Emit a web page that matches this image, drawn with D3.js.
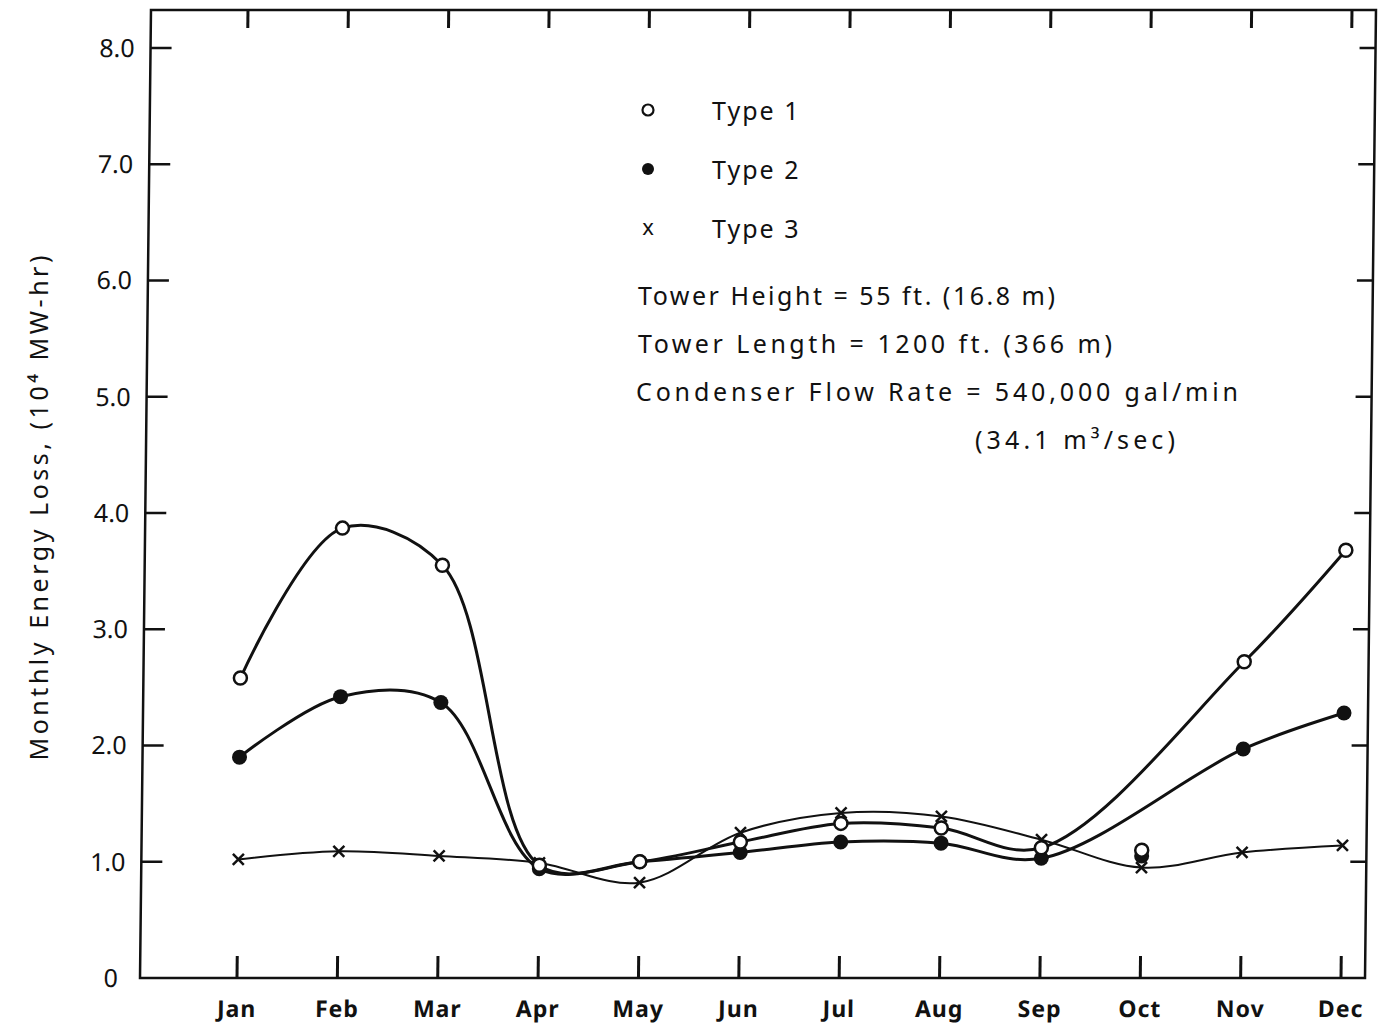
<!DOCTYPE html>
<html lang="en">
<head>
<meta charset="UTF-8">
<title>monthly energy loss</title>
<script src="https://cdn.jsdelivr.net/npm/d3@7/dist/d3.min.js"></script>
<style>
    body { margin: 0; background: #fff; }
    text { font-family: "Noto Sans", "DejaVu Sans", sans-serif; fill: #111; }
</style>
</head>
<body>

<svg width="1380" height="1024"></svg>

<script>

    // data
    var months = ["Jan", "Feb", "Mar", "Apr", "May", "Jun", "Jul", "Aug", "Sep", "Oct", "Nov", "Dec"];
    var type1 = [2.58, 3.87, 3.55, 0.97, 1.00, 1.17, 1.33, 1.29, 1.12, 1.10, 2.72, 3.68];
    var type2 = [1.90, 2.42, 2.37, 0.94, 1.00, 1.08, 1.17, 1.16, 1.03, 1.05, 1.97, 2.28];
    var type3 = [1.02, 1.09, 1.05, 0.99, 0.82, 1.25, 1.42, 1.39, 1.19, 0.95, 1.08, 1.14];
    // the drawn curves of types 1 and 2 skip the Oct point
    var skip12 = ["Oct"];
    var yTicks = [0, 1, 2, 3, 4, 5, 6, 7, 8];
    var yTickLabels = ["0", "1.0", "2.0", "3.0", "4.0", "5.0", "6.0", "7.0", "8.0"];

    var legendNames = ["Type 1", "Type 2", "Type 3"];
    var notes = [
        "Tower Height = 55 ft. (16.8 m)",
        "Tower Length = 1200 ft. (366 m)",
        "Condenser Flow Rate = 540,000 gal/min",
        "(34.1 m\u00b3/sec)"
    ];

    var svg = d3.select("svg");

    var fLeft = 140, fRight = 1365, fTop = 10, fBottom = 978;

    var x = d3.scalePoint().domain(months).range([237, 1341]);
    var y = d3.scaleLinear().domain([0, 8]).range([fBottom, 48]);

    // the scanned sheet leans a little: top edge sits ~11px right of the bottom
    var g = svg.append("g")
        .attr("transform", "translate(0," + fBottom + ") skewX(-0.65) translate(0," + (-fBottom) + ")");

    // frame
    g.append("rect")
        .attr("x", fLeft).attr("y", fTop)
        .attr("width", fRight - fLeft).attr("height", fBottom - fTop)
        .attr("fill", "none").attr("stroke", "#111").attr("stroke-width", 2.5);

    // month ticks, bottom (up) and top (down)
    g.append("g").selectAll("line")
        .data(months).enter().append("line")
        .attr("x1", function (d) { return x(d); }).attr("x2", function (d) { return x(d); })
        .attr("y1", fBottom).attr("y2", fBottom - 22)
        .attr("stroke", "#111").attr("stroke-width", 3);
    g.append("g").selectAll("line")
        .data(months).enter().append("line")
        .attr("x1", function (d) { return x(d); }).attr("x2", function (d) { return x(d); })
        .attr("y1", fTop).attr("y2", fTop + 18)
        .attr("stroke", "#111").attr("stroke-width", 3);

    // value ticks, left and right
    var inner = yTicks.filter(function (d) { return d > 0; });
    g.append("g").selectAll("line")
        .data(inner).enter().append("line")
        .attr("x1", fLeft).attr("x2", fLeft + 21)
        .attr("y1", function (d) { return y(d); }).attr("y2", function (d) { return y(d); })
        .attr("stroke", "#111").attr("stroke-width", 2.5);
    g.append("g").selectAll("line")
        .data(inner).enter().append("line")
        .attr("x1", fRight).attr("x2", fRight - 16)
        .attr("y1", function (d) { return y(d); }).attr("y2", function (d) { return y(d); })
        .attr("stroke", "#111").attr("stroke-width", 2.5);

    // tick labels
    g.append("g").selectAll("text")
        .data(yTicks).enter().append("text")
        .attr("x", function (d) { return d === 0 ? fLeft - 22 : fLeft - 16; })
        .attr("y", function (d) { return y(d); })
        .attr("dy", "0.36em")
        .attr("text-anchor", "end")
        .attr("font-size", 25)
        .text(function (d, i) { return yTickLabels[i]; });

    g.append("g").selectAll("text")
        .data(months).enter().append("text")
        .attr("x", function (d) { return x(d); })
        .attr("y", 1017)
        .attr("text-anchor", "middle")
        .attr("font-size", 23)
        .attr("font-weight", "bold")
        .attr("letter-spacing", 1)
        .text(function (d) { return d; });

    // curves
    var line = d3.line()
        .x(function (d) { return x(d.m); })
        .y(function (d) { return y(d.v); })
        .curve(d3.curveCatmullRom.alpha(0.5));

    function pts(vals, skip) {
        return months.map(function (m, i) { return {m: m, v: vals[i]}; })
            .filter(function (d) { return skip.indexOf(d.m) < 0; });
    }

    g.append("path").attr("d", line(pts(type3, [])))
        .attr("fill", "none").attr("stroke", "#111").attr("stroke-width", 2);
    g.append("path").attr("d", line(pts(type2, skip12)))
        .attr("fill", "none").attr("stroke", "#111").attr("stroke-width", 3);
    g.append("path").attr("d", line(pts(type1, skip12)))
        .attr("fill", "none").attr("stroke", "#111").attr("stroke-width", 3);

    // markers
    g.append("g").selectAll("path")
        .data(pts(type3, [])).enter().append("path")
        .attr("d", function (d) {
            var cx = x(d.m), cy = y(d.v), s = 5.5;
            return "M" + (cx - s) + "," + (cy - s) + "L" + (cx + s) + "," + (cy + s) +
                "M" + (cx - s) + "," + (cy + s) + "L" + (cx + s) + "," + (cy - s);
        })
        .attr("stroke", "#111").attr("stroke-width", 2.5);

    g.append("g").selectAll("circle")
        .data(pts(type2, [])).enter().append("circle")
        .attr("cx", function (d) { return x(d.m); })
        .attr("cy", function (d) { return y(d.v); })
        .attr("r", 7.5)
        .attr("fill", "#111");

    g.append("g").selectAll("circle")
        .data(pts(type1, [])).enter().append("circle")
        .attr("cx", function (d) { return x(d.m); })
        .attr("cy", function (d) { return y(d.v); })
        .attr("r", 6.5)
        .attr("fill", "#fff").attr("stroke", "#111").attr("stroke-width", 2.5);

    // legend
    var lg = svg.append("g");
    lg.append("circle").attr("cx", 648).attr("cy", 110).attr("r", 5.5)
        .attr("fill", "#fff").attr("stroke", "#111").attr("stroke-width", 2.2);
    lg.append("circle").attr("cx", 648).attr("cy", 169).attr("r", 6)
        .attr("fill", "#111");
    lg.append("text").attr("x", 648).attr("y", 235).attr("text-anchor", "middle")
        .attr("font-size", 22).text("x");
    lg.selectAll(".lab")
        .data(legendNames).enter().append("text")
        .attr("class", "lab")
        .attr("x", 712)
        .attr("y", function (d, i) { return 120 + i * 59; })
        .attr("font-size", 25)
        .attr("letter-spacing", 2)
        .text(function (d) { return d; });

    // tower notes
    var noteX = [638, 638, 636, 975];
    var noteW = [417, 474, 602, 200];
    lg.selectAll(".note")
        .data(notes).enter().append("text")
        .attr("class", "note")
        .attr("x", function (d, i) { return noteX[i]; })
        .attr("y", function (d, i) { return 305 + i * 48; })
        .attr("font-size", 25)
        .attr("textLength", function (d, i) { return noteW[i]; })
        .attr("lengthAdjust", "spacing")
        .text(function (d) { return d; });

    // axis title
    svg.append("text")
        .attr("transform", "translate(48,508) rotate(-90)")
        .attr("text-anchor", "middle")
        .attr("font-size", 25)
        .attr("textLength", 505)
        .attr("lengthAdjust", "spacing")
        .text("Monthly Energy Loss, (10\u2074 MW-hr)");

</script>
</body>
</html>
